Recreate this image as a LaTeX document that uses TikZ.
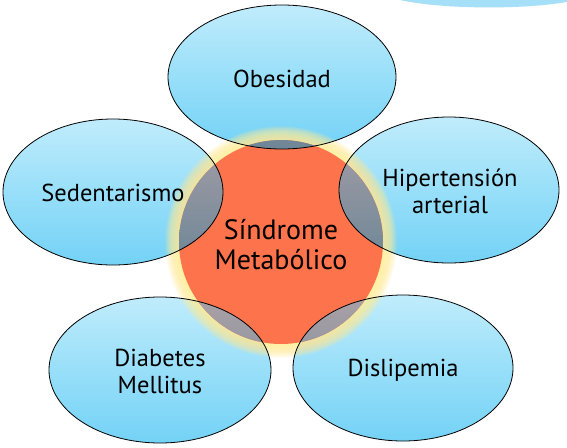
\documentclass[tikz,border=0pt]{standalone}
\usepackage{fontspec}
\setmainfont{PT Sans}
\definecolor{bluetop}{HTML}{C0ECFC}
\definecolor{bluemid}{HTML}{98DFF9}
\definecolor{bluebot}{HTML}{74D2F6}
\definecolor{orng}{HTML}{FD734B}
\definecolor{glowc}{HTML}{FFF0A0}
\definecolor{graytop}{HTML}{ABA1A7}
\definecolor{graybot}{HTML}{6E8697}
\definecolor{band}{HTML}{A6DFF8}
\tikzset{
  lbl/.style={font=\fontsize{24.5}{27}\selectfont, align=center, text=black},
  cntr/.style={font=\fontsize{28}{30}\selectfont, align=center, text=black},
  ellfill/.style={top color=bluetop, bottom color=bluebot, middle color=bluemid},
  ellline/.style={draw=black, line width=0.8pt},
}
\begin{document}
\begin{tikzpicture}[x=1pt,y=-1pt]
\useasboundingbox (0,0) rectangle (567,447);
\fill[white] (0,0) rectangle (567,447);
% top-right band
\fill[band] (400,0) .. controls (440,9) and (520,10) .. (567,2) -- (567,0) -- cycle;
% ellipse fills
\foreach \cx/\cy/\rx/\ry in {282/77/114/72, 113/192/110/73, 449/190/110/73, 160/370/111/73, 403/368/110/73}
  \shade[ellfill] (\cx,\cy) ellipse [x radius=\rx pt, y radius=\ry pt];
% glow
\foreach \r in {116,115.5,...,102.5}
  \fill[glowc, opacity=0.075] (281,242) circle [radius=\r pt];
% central circle
\fill[orng] (281,242) circle [radius=102pt];
% overlaps
\foreach \cx/\cy/\rx/\ry in {282/77/114/72, 113/192/110/73, 449/190/110/73, 160/370/111/73, 403/368/110/73}{
  \begin{scope}
    \clip (281,242) circle [radius=102pt];
    \clip (\cx,\cy) ellipse [x radius=\rx pt, y radius=\ry pt];
    \shade[top color=graytop, bottom color=graybot] (\cx-\rx,\cy-\ry) rectangle (\cx+\rx,\cy+\ry);
  \end{scope}
}
% outlines
\foreach \cx/\cy/\rx/\ry in {282/77/114/72, 113/192/110/73, 449/190/110/73, 160/370/111/73, 403/368/110/73}
  \draw[ellline] (\cx,\cy) ellipse [x radius=\rx pt, y radius=\ry pt];
% labels
\node[lbl] (obesidad) at (282,79) {Obesidad};
\node[lbl] (sedent) at (113,193) {Sedentarismo};
\node[lbl] (hiper) at (450,191) {Hipertensión\\arterial};
\node[lbl] (diab) at (160,371) {Diabetes\\Mellitus};
\node[lbl] (dislip) at (403,370) {Dislipemia};
\node[cntr] (sindrome) at (281,245) {Síndrome\\Metabólico};
\end{tikzpicture}
\end{document}
